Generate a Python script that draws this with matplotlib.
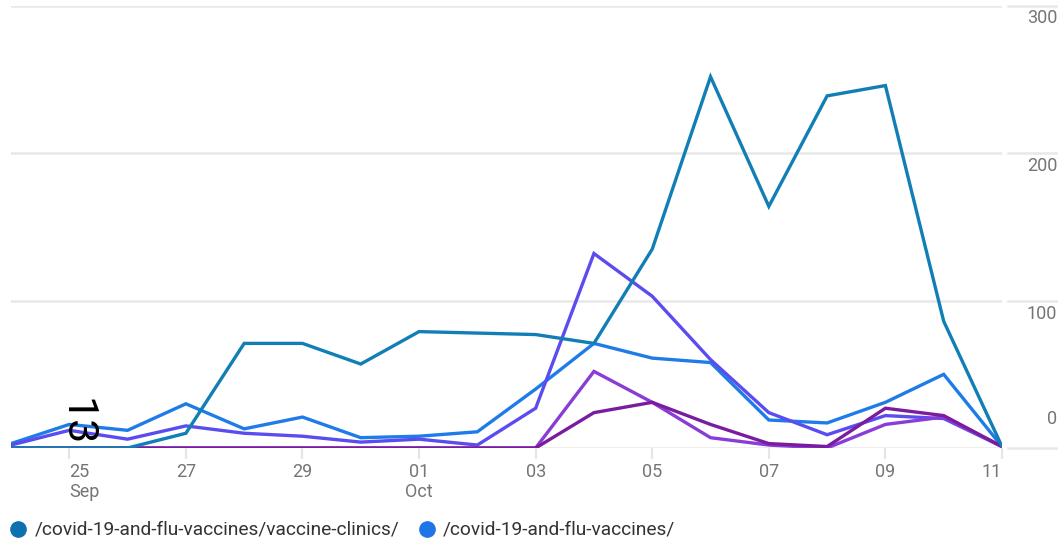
import matplotlib
matplotlib.use("Agg")
import matplotlib.pyplot as plt
import matplotlib.transforms as mtransforms
from matplotlib.lines import Line2D
import pandas as pd

dates = pd.date_range("2023-09-24", "2023-10-11", freq="D")

vaccine_clinics = [0, 0, 0, 10, 71, 71, 57, 79, 78, 77, 71, 135, 252, 164, 239, 246, 86, 1]
flu_vaccines = [3, 16, 12, 30, 13, 21, 7, 8, 11, 40, 71, 61, 58, 19, 17, 31, 50, 1]
series3 = [2, 12, 6, 15, 10, 8, 4, 6, 2, 27, 132, 103, 60, 24, 9, 22, 20, 1]
series4 = [0, 0, 0, 0, 0, 0, 0, 0, 0, 0, 52, 31, 7, 2, 0, 16, 21, 1]
series5 = [0, 0, 0, 0, 0, 0, 0, 0, 0, 0, 24, 31, 16, 3, 1, 27, 22, 1]

series = [vaccine_clinics, flu_vaccines, series3, series4, series5]
colors = ["#117fb5", "#1f7be8", "#5a4cef", "#8a3dd6", "#7b1ca0"]
zorders = [6, 2, 3, 4, 5]

legend_labels = ["/covid-19-and-flu-vaccines/vaccine-clinics/", "/covid-19-and-flu-vaccines/"]
legend_colors = ["#0d70b0", "#1f74e8"]

tick_labels = ["25\nSep", "27", "29", "01\nOct", "03", "05", "07", "09", "11"]
y_ticks = [0, 100, 200, 300]

W, H = 1061, 544
fig = plt.figure(figsize=(W / 100, H / 100), dpi=100)
left_px, right_px, top_px, bot_px = 11, 1002, 6, 448
ax = fig.add_axes([left_px / W, 1 - bot_px / H, (right_px - left_px) / W, (bot_px - top_px) / H])

x = list(range(len(dates)))
for vals, c, z in zip(series, colors, zorders):
    ax.plot(x, vals, color=c, lw=2.4, zorder=z, solid_joinstyle="miter")

ax.set_xlim(0, len(dates) - 1)
ax.set_ylim(0, 300)
for s in ax.spines.values():
    s.set_visible(False)

grid_c = "#e8e8e8"
for yv in y_ticks:
    ax.axhline(yv, color=grid_c, lw=1.8, zorder=0)

lab_font = dict(fontfamily="Roboto", fontsize=13, color="#757575")
tick_pos = [i for i, d in enumerate(dates) if d.day % 2 == 1]
ax.set_xticks(tick_pos)
ax.set_xticklabels(tick_labels, linespacing=1.1, **lab_font)
ax.tick_params(axis="x", length=8, width=1.5, color="#e6e6e6", pad=3)
xl = ax.get_xticklabels()
xl[0].set_horizontalalignment("left")
xl[0].set_multialignment("left")
xl[-1].set_horizontalalignment("right")
ax.set_yticks([])

btf = mtransforms.blended_transform_factory(fig.transFigure, ax.transData)
for yv in y_ticks:
    ax.add_line(Line2D([1008 / W, 1056 / W], [yv, yv], transform=btf, color=grid_c, lw=1.8, clip_on=False))
    off = {0: 29, 100: -13, 200: -13, 300: -12}[yv]
    ax.text(1057 / W, yv, str(yv),
            transform=btf + mtransforms.ScaledTranslation(0, off / 100, fig.dpi_scale_trans),
            ha="right", va="center", **lab_font)

# rotated annotation
fig.text(76 / W, 1 - 422 / H, "13", rotation=-90, ha="center", va="center", fontfamily="Roboto",
         fontsize=31, color="black")

# legend
ly = 1 - 529 / H
leg_font = dict(fontfamily=["Liberation Sans Narrow", "Roboto"], fontsize=13.8, color="#333333")
fig.add_artist(Line2D([18 / W], [ly], marker="o", markersize=11, color=legend_colors[0], lw=0))
fig.text(35 / W, ly, legend_labels[0], ha="left", va="center", **leg_font)
fig.add_artist(Line2D([427 / W], [ly], marker="o", markersize=11, color=legend_colors[1], lw=0))
fig.text(443 / W, ly, legend_labels[1], ha="left", va="center", **leg_font)

fig.savefig("out.png", dpi=100)
